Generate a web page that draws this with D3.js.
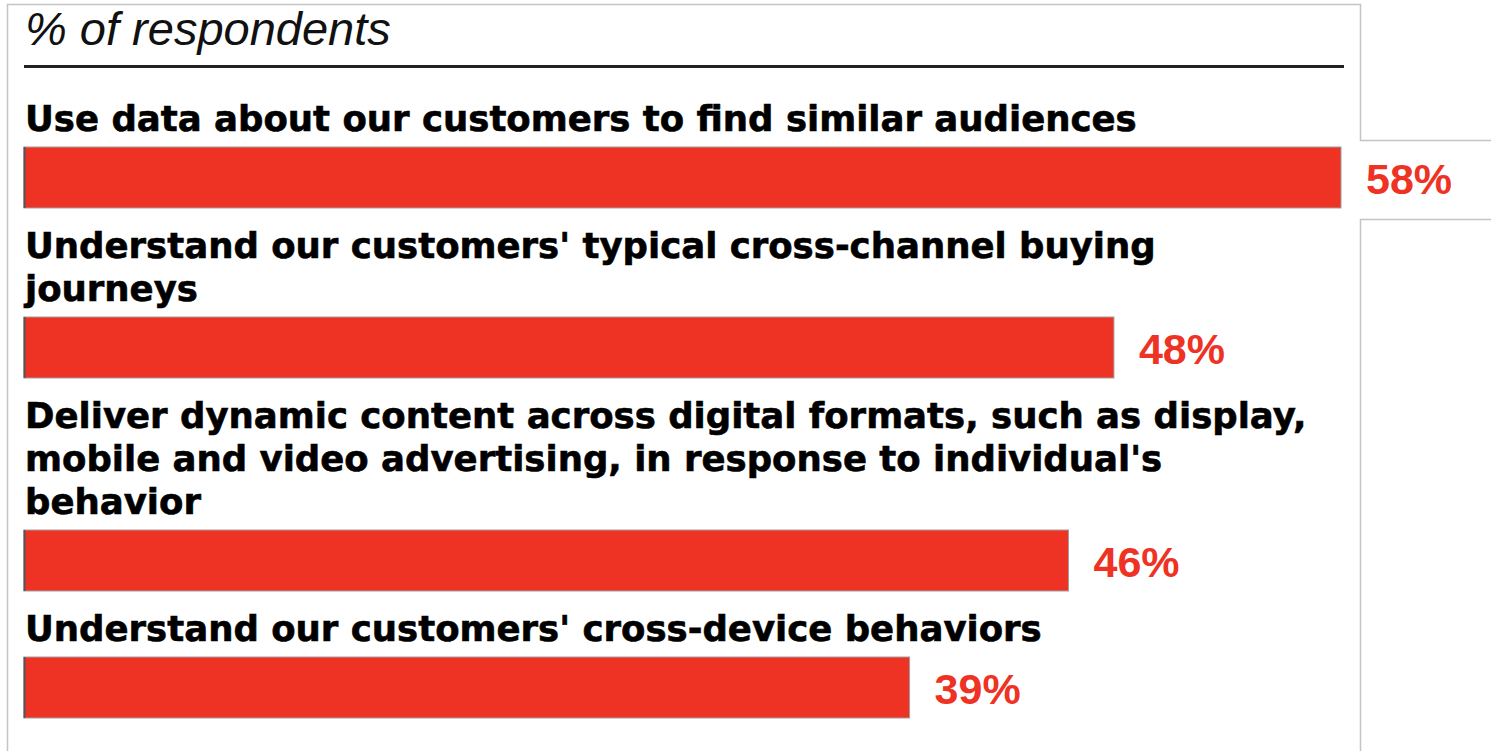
<!DOCTYPE html>
<html>
<head>
<meta charset="utf-8">
<script src="https://d3js.org/d3.v7.min.js"></script>
<style>
body { margin: 0; background: #fff; }
svg { display: block; }
</style>
</head>
<body>
<div id="chart"></div>
<script>
// data
let categories = [
    ["Use data about our customers to find similar audiences"],
    ["Understand our customers' typical cross-channel buying", "journeys"],
    ["Deliver dynamic content across digital formats, such as display,",
     "mobile and video advertising, in response to individual's",
     "behavior"],
    ["Understand our customers' cross-device behaviors"]
];
let values = [58, 48, 46, 39];
let title = "% of respondents";

let width = 1491, height = 751;
let barColor = "#ee3224";
let lineH = 43, barH = 61;

let svg = d3.select("#chart").append("svg")
    .attr("width", width)
    .attr("height", height);

let x = d3.scaleLinear()
    .domain([0, 58])
    .range([24, 1341]);

// panel border, with the little box poking out for the 58% label
svg.append("path")
    .attr("d", "M7.5,751 L7.5,4.5 L1360.5,4.5 L1360.5,140.5 L1491,140.5 M1491,219.5 L1360.5,219.5 L1360.5,751")
    .attr("fill", "none")
    .attr("stroke", "#c4c4c4")
    .attr("stroke-width", 1.5);

svg.append("text")
    .attr("x", 25)
    .attr("y", 45)
    .text(title)
    .style("font-family", "'Liberation Sans', Arial, sans-serif")
    .style("font-style", "italic")
    .style("font-size", "47px")
    .style("fill", "#111");

svg.append("line")
    .attr("x1", 24).attr("x2", 1344)
    .attr("y1", 66.5).attr("y2", 66.5)
    .attr("stroke", "#222")
    .attr("stroke-width", 3);

// work out vertical layout from number of label lines
let rows = [];
let base = 131;
for (let i = 0; i < categories.length; i++) {
    let lines = categories[i];
    let barTop = base + (lines.length - 1) * lineH + 16;
    rows.push({lines: lines, value: values[i], base: base, barTop: barTop});
    base = barTop + barH + 50;
}

let g = svg.selectAll(".row")
    .data(rows)
    .enter().append("g")
    .attr("class", "row");

g.each(function(d) {
    let t = d3.select(this).append("text")
        .style("font-family", "'DejaVu Sans', Verdana, sans-serif")
        .style("font-weight", "bold")
        .style("font-size", "35.5px")
        .style("fill", "#000")
        .style("stroke", "#000")
        .style("stroke-width", 0.6);
    d.lines.forEach(function(l, j) {
        t.append("tspan")
            .attr("x", 25)
            .attr("y", d.base + j * lineH)
            .text(l);
    });
});

g.append("rect")
    .attr("x", x(0))
    .attr("y", function(d) { return d.barTop; })
    .attr("width", function(d) { return x(d.value) - x(0); })
    .attr("height", barH)
    .attr("fill", barColor)
    .attr("stroke", "#a0a0a0")
    .attr("stroke-width", 1);

g.append("line")
    .attr("x1", x(0) + 0.5).attr("x2", x(0) + 0.5)
    .attr("y1", function(d) { return d.barTop; })
    .attr("y2", function(d) { return d.barTop + barH; })
    .attr("stroke", "#555")
    .attr("stroke-width", 2);

g.append("text")
    .attr("x", function(d) { return x(d.value) + 25; })
    .attr("y", function(d) { return d.barTop + barH / 2 + 16; })
    .text(function(d) { return d.value + "%"; })
    .style("font-family", "'Liberation Sans', Arial, sans-serif")
    .style("font-weight", "bold")
    .style("font-size", "43px")
    .style("fill", barColor);
</script>
</body>
</html>
